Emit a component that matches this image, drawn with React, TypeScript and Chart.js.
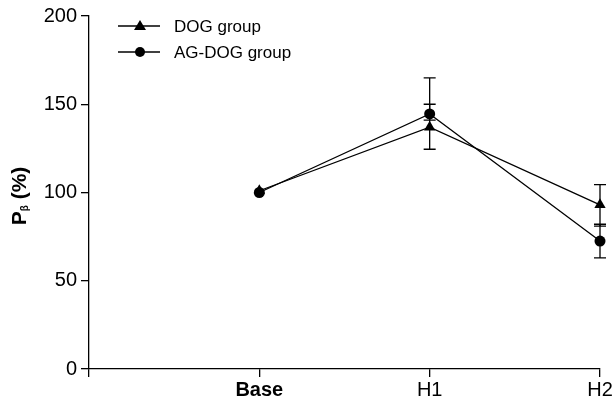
import React, { useEffect, useRef } from "react";
import { Chart, registerables } from "chart.js";

Chart.register(...registerables);

const categories = ["Base", "H1", "H2"];
const xTickLabels = ["", "Base", "H1", "H2"];
const dogValues = [101, 137, 93];
const dogLow = [101, 124.5, 81];
const dogHigh = [101, 150, 104.5];
const agDogValues = [100, 144.5, 72.5];
const agDogLow = [100, 141, 63];
const agDogHigh = [100, 165, 82];
const yTicks = [0, 50, 100, 150, 200];
const seriesNames = ["DOG group", "AG-DOG group"];

const FONT = "Arial, 'Liberation Sans', sans-serif";

export default function App() {
  const ref = useRef<HTMLCanvasElement | null>(null);

  useEffect(() => {
    document.body.style.margin = "0";
    const canvas = ref.current;
    if (!canvas) return;

    const errorBars = {
      id: "errorBars",
      afterDatasetsDraw(chart: any) {
        const ctx = chart.ctx;
        const xs = chart.scales.x;
        const ys = chart.scales.y;
        const sets = [
          [dogLow, dogHigh],
          [agDogLow, agDogHigh],
        ];
        ctx.save();
        ctx.strokeStyle = "#000";
        ctx.lineWidth = 1.3;
        sets.forEach(([lo, hi]) => {
          categories.forEach((_, i) => {
            if (lo[i] === hi[i]) return;
            const px = xs.getPixelForValue(i + 1);
            const p1 = ys.getPixelForValue(lo[i]);
            const p2 = ys.getPixelForValue(hi[i]);
            ctx.beginPath();
            ctx.moveTo(px, p1);
            ctx.lineTo(px, p2);
            ctx.moveTo(px - 6, p1);
            ctx.lineTo(px + 6, p1);
            ctx.moveTo(px - 6, p2);
            ctx.lineTo(px + 6, p2);
            ctx.stroke();
          });
        });
        ctx.restore();
      },
    };

    const customText = {
      id: "customText",
      afterDraw(chart: any) {
        const ctx = chart.ctx;
        ctx.save();
        // legend
        const rows = [
          { y: 26, style: "triangle" },
          { y: 52, style: "circle" },
        ];
        rows.forEach((r, i) => {
          ctx.strokeStyle = "#000";
          ctx.fillStyle = "#000";
          ctx.lineWidth = 1.3;
          ctx.beginPath();
          ctx.moveTo(118, r.y);
          ctx.lineTo(160, r.y);
          ctx.stroke();
          const cx = 140;
          ctx.beginPath();
          if (r.style === "triangle") {
            ctx.moveTo(cx, r.y - 6);
            ctx.lineTo(cx + 6, r.y + 4);
            ctx.lineTo(cx - 6, r.y + 4);
            ctx.closePath();
          } else {
            ctx.arc(cx, r.y, 5, 0, Math.PI * 2);
          }
          ctx.fill();
          ctx.font = `17px ${FONT}`;
          ctx.textBaseline = "middle";
          ctx.textAlign = "left";
          ctx.fillText(seriesNames[i], 174, r.y + 1);
        });
        // y axis title
        ctx.translate(20, 196);
        ctx.rotate(-Math.PI / 2);
        ctx.textBaseline = "middle";
        ctx.textAlign = "left";
        const parts = [
          { t: "P", f: `bold 21px ${FONT}`, dy: 0 },
          { t: "β", f: `bold 10px ${FONT}`, dy: 5 },
          { t: " (%)", f: `bold 21px ${FONT}`, dy: 0 },
        ];
        let total = 0;
        parts.forEach((p) => {
          ctx.font = p.f;
          total += ctx.measureText(p.t).width;
        });
        let x = -total / 2;
        parts.forEach((p) => {
          ctx.font = p.f;
          ctx.fillText(p.t, x, p.dy);
          x += ctx.measureText(p.t).width;
        });
        ctx.restore();
      },
    };

    const mk = (vals: number[]) => vals.map((v, i) => ({ x: i + 1, y: v }));

    const chart = new Chart(canvas, {
      type: "line",
      data: {
        datasets: [
          {
            label: seriesNames[0],
            data: mk(dogValues),
            borderColor: "#000",
            backgroundColor: "#000",
            borderWidth: 1.3,
            pointStyle: "triangle",
            pointRadius: 6.5,
            pointBorderWidth: 0,
            tension: 0,
            clip: false,
          },
          {
            label: seriesNames[1],
            data: mk(agDogValues),
            borderColor: "#000",
            backgroundColor: "#000",
            borderWidth: 1.3,
            pointStyle: "circle",
            pointRadius: 5.5,
            pointBorderWidth: 0,
            tension: 0,
            clip: false,
          },
        ],
      },
      options: {
        animation: false,
        responsive: false,
        maintainAspectRatio: false,
        layout: { padding: { top: 16, right: 14, left: 0, bottom: 0 } },
        plugins: {
          legend: { display: false },
          tooltip: { enabled: false },
        },
        scales: {
          x: {
            type: "linear",
            min: 0,
            max: 3,
            afterBuildTicks: (s: any) => {
              s.ticks = [0, 1, 2, 3].map((v) => ({ value: v }));
            },
            afterFit: (s: any) => {
              s.height = 34;
            },
            grid: {
              drawOnChartArea: false,
              drawTicks: true,
              tickLength: 8,
              color: "#000",
              lineWidth: 1.3,
            },
            border: { display: true, color: "#000", width: 1.3 },
            ticks: {
              color: "#000",
              padding: 1,
              maxRotation: 0,
              autoSkip: false,
              font: (c: any) => ({
                family: FONT,
                size: 20,
                weight: c.index === 1 ? "bold" : "normal",
              }),
              callback: (v: any) => xTickLabels[Math.round(Number(v))] ?? "",
            },
          },
          y: {
            type: "linear",
            min: 0,
            max: 200,
            afterBuildTicks: (s: any) => {
              s.ticks = yTicks.map((v) => ({ value: v }));
            },
            afterFit: (s: any) => {
              s.width = 89;
            },
            grid: {
              drawOnChartArea: false,
              drawTicks: true,
              tickLength: 8,
              color: "#000",
              lineWidth: 1.3,
            },
            border: { display: true, color: "#000", width: 1.3 },
            ticks: {
              color: "#000",
              padding: 4,
              font: { family: FONT, size: 20 },
            },
          },
        },
      },
      plugins: [errorBars, customText],
    });
    return () => chart.destroy();
  }, []);

  return (
    <div style={{ position: "absolute", left: 0, top: 0, width: 614, height: 403 }}>
      <canvas ref={ref} width={614} height={403} style={{ width: 614, height: 403 }} />
    </div>
  );
}
